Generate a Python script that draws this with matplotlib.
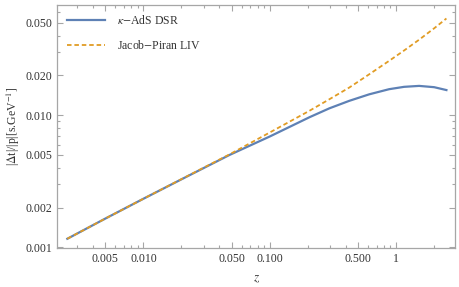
import matplotlib
matplotlib.use('Agg')
import matplotlib.pyplot as plt
import numpy as np

# values
z_dsr = [0.0025, 0.005, 0.01, 0.02, 0.048, 0.1, 0.206, 0.296, 0.426, 0.612, 0.88, 1.156, 1.52, 2.0, 2.5]
dt_dsr = [0.00116, 0.00165, 0.00233, 0.00327, 0.00500, 0.0069, 0.00965, 0.01127, 0.01285, 0.01439,
          0.01574, 0.0164, 0.01667, 0.0163, 0.0155]

z_liv = [0.0025, 0.005, 0.01, 0.02, 0.048, 0.1, 0.206, 0.296, 0.426, 0.612, 0.88, 1.156, 1.52, 2.0, 2.5]
dt_liv = [0.00116, 0.00165, 0.00233, 0.00328, 0.00505, 0.0074, 0.0108, 0.0132, 0.0162, 0.0204,
          0.0258, 0.0309, 0.0373, 0.0455, 0.0540]

xticks = [0.005, 0.01, 0.05, 0.1, 0.5, 1]
xticklabels = ['0.005', '0.010', '0.050', '0.100', '0.500', '1']
yticks = [0.001, 0.002, 0.005, 0.01, 0.02, 0.05]
yticklabels = ['0.001', '0.002', '0.005', '0.010', '0.020', '0.050']

plt.rcParams['font.family'] = ['Liberation Serif', 'DejaVu Serif']
plt.rcParams['mathtext.fontset'] = 'stix'

fig = plt.figure(figsize=(4.6, 2.87), dpi=100)
ax = fig.add_axes([0.125, 0.135, 0.864, 0.849])

ax.plot(z_dsr, dt_dsr, color='#5E81B5', lw=1.6, label=r'$\kappa$$-$AdS DSR')
ax.plot(z_liv, dt_liv, color='#E19C24', lw=1.3, ls=(0, (2.5, 1.6)), label='Jacob$-$Piran LIV')

ax.set_xscale('log')
ax.set_yscale('log')
ax.set_xlim(0.00209, 2.92)
ax.set_ylim(0.000983, 0.0688)

ax.set_xticks(xticks)
ax.set_xticklabels(xticklabels)
ax.set_yticks(yticks)
ax.set_yticklabels(yticklabels)

xminor = [v * d for d in [0.001, 0.01, 0.1, 1] for v in range(2, 10)]
xminor = [v for v in xminor if v not in xticks and 0.002 < v < 3]
ax.set_xticks(xminor, minor=True)
ax.set_xticklabels([], minor=True)
yminor = [v * d for d in [0.001, 0.01] for v in range(2, 10)]
yminor = [v for v in yminor if v not in yticks and v < 0.07]
ax.set_yticks(yminor, minor=True)
ax.set_yticklabels([], minor=True)

frame_col = '#a6a6a6'
for s in ax.spines.values():
    s.set_color(frame_col)
    s.set_linewidth(0.9)
ax.tick_params(which='both', direction='in', top=True, right=True, color=frame_col,
               labelcolor='#333333', labelsize=8.5, width=0.8)
ax.tick_params(which='major', length=4.5)
ax.tick_params(which='minor', length=2.5)

ax.set_xlabel('$z$', fontsize=9.5, color='#333333', labelpad=6)
ax.set_ylabel(r'|$\Delta$t|/|p|[s.GeV$^{-1}$]', fontsize=8.5, color='#333333', labelpad=3)

leg = ax.legend(loc='upper left', frameon=False, fontsize=8.5, handlelength=3.2,
                labelspacing=1.0, borderaxespad=0.4, handletextpad=1.0)
for t in leg.get_texts():
    t.set_color('#333333')

fig.savefig('out.png', dpi=100)
